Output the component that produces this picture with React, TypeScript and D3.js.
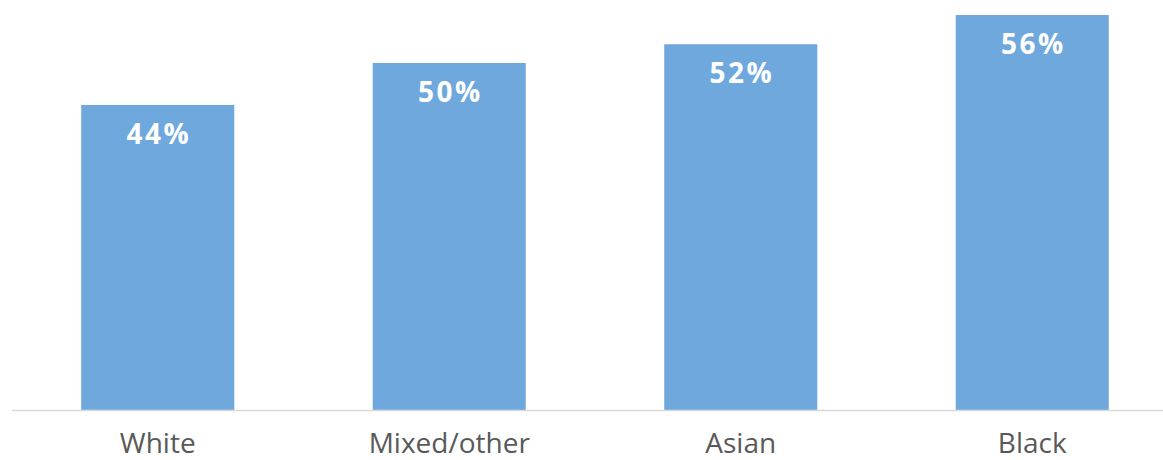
import React from "react";
import * as d3 from "d3";

const categories = ["White", "Mixed/other", "Asian", "Black"];
const values = [44, 49.6, 52.1, 56];
const valueLabels = ["44%", "50%", "52%", "56%"];

const W = 1163;
const H = 460;
const baseY = 410;

export default function App() {
  const x = d3.scaleBand<string>().domain(categories).range([12, 1178]).paddingInner(0.475).paddingOuter(0.2375);
  const y = d3.scaleLinear().domain([3.33, 56]).range([baseY, 15]);
  const font = "'Open Sans', 'Noto Sans', sans-serif";
  return (
    <svg width={W} height={H} style={{ position: "absolute", left: 0, top: 0, background: "#fff" }}>
      {categories.map((c, i) => {
        const bx = x(c)!;
        const bw = x.bandwidth();
        const ty = y(values[i]);
        return (
          <g key={c}>
            <rect x={bx} y={ty} width={bw} height={baseY - ty} fill="#6fa8dc" />
            <text x={bx + bw / 2 + 1} y={ty + 39} textAnchor="middle" fill="#fff" fontFamily={font} fontWeight={700} fontSize={28} letterSpacing={2.5}>
              {valueLabels[i]}
            </text>
            <text x={bx + bw / 2} y={453} textAnchor="middle" fill="#595959" fontFamily={font} fontSize={28}>
              {c}
            </text>
          </g>
        );
      })}
      <line x1={12} x2={W} y1={baseY + 0.5} y2={baseY + 0.5} stroke="#d9d9d9" strokeWidth={1.5} />
    </svg>
  );
}
